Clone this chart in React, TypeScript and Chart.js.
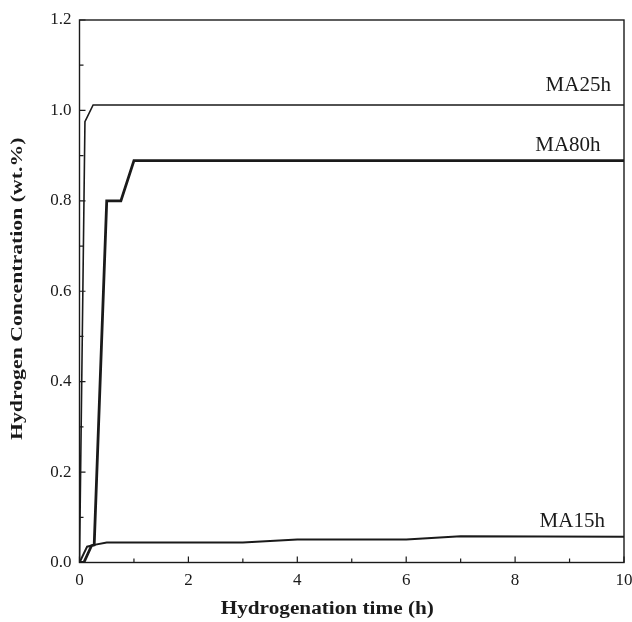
import React, { useEffect, useRef } from "react";
import { Chart, registerables } from "chart.js";

Chart.register(...registerables);

// ---- data ----
const ma25X = [0, 0.1, 0.25, 10];
const ma25Y = [0, 0.975, 1.012, 1.012];
const ma80X = [0, 0.08, 0.22, 0.27, 0.5, 0.76, 1.0, 10];
const ma80Y = [0, 0, 0.037, 0.039, 0.8, 0.8, 0.889, 0.889];
const ma15X = [0, 0.14, 0.27, 0.5, 3, 4, 6, 7, 10];
const ma15Y = [0, 0.035, 0.039, 0.044, 0.044, 0.051, 0.051, 0.058, 0.057];

const seriesNames = ["MA25h", "MA80h", "MA15h"];
const labelX = [9.76, 9.57, 9.65];
const labelY = [1.012, 0.889, 0.057];

const xTitle = "Hydrogenation time (h)";
const yTitle = "Hydrogen Concentration (wt.%)";

const FONT = "'Liberation Serif', 'Times New Roman', serif";
const INK = "#1a1a1a";

const toPts = (xs: number[], ys: number[]) => xs.map((x, i) => ({ x, y: ys[i] }));

const framePlugin = {
  id: "frame",
  afterDatasetsDraw(chart: any) {
    const { ctx, chartArea: a, scales } = chart;
    const xs = scales.x;
    const ys = scales.y;
    ctx.save();
    ctx.strokeStyle = INK;
    ctx.lineWidth = 1.4;
    ctx.strokeRect(a.left, a.top, a.right - a.left, a.bottom - a.top);
    // inward ticks
    ctx.lineWidth = 1.2;
    const xt = xs.ticks.map((t: any) => t.value);
    const yt = ys.ticks.map((t: any) => t.value);
    ctx.beginPath();
    xt.forEach((v: number, i: number) => {
      const px = xs.getPixelForValue(v);
      ctx.moveTo(px, a.bottom);
      ctx.lineTo(px, a.bottom - 6);
      if (i < xt.length - 1) {
        const m = xs.getPixelForValue((v + xt[i + 1]) / 2);
        ctx.moveTo(m, a.bottom);
        ctx.lineTo(m, a.bottom - 4);
      }
    });
    yt.forEach((v: number, i: number) => {
      const py = ys.getPixelForValue(v);
      ctx.moveTo(a.left, py);
      ctx.lineTo(a.left + 6, py);
      if (i < yt.length - 1) {
        const m = ys.getPixelForValue((v + yt[i + 1]) / 2);
        ctx.moveTo(a.left, m);
        ctx.lineTo(a.left + 4, m);
      }
    });
    ctx.stroke();
    // series labels
    ctx.fillStyle = INK;
    ctx.font = `21px ${FONT}`;
    ctx.textAlign = "right";
    ctx.textBaseline = "alphabetic";
    const gaps = [14, 10, 10];
    seriesNames.forEach((name, i) => {
      const px = xs.getPixelForValue(labelX[i]);
      const py = ys.getPixelForValue(labelY[i]) - gaps[i];
      ctx.fillText(name, px, py);
    });
    // axis titles (slightly stretched like the source figure)
    ctx.font = `bold 18px ${FONT}`;
    ctx.textAlign = "center";
    ctx.save();
    ctx.translate(a.left + (a.right - a.left) * 0.455, chart.height - 8);
    ctx.scale(1.18, 1);
    ctx.fillText(xTitle, 0, 0);
    ctx.restore();
    ctx.font = `bold 17px ${FONT}`;
    ctx.save();
    ctx.translate(22, (a.top + a.bottom) / 2 - 2.5);
    ctx.rotate(-Math.PI / 2);
    ctx.scale(1.28, 1);
    ctx.fillText(yTitle, 0, 0);
    ctx.restore();
    ctx.restore();
  },
};

export default function App() {
  const ref = useRef<HTMLCanvasElement | null>(null);
  useEffect(() => {
    document.body.style.margin = "0";
    if (!ref.current) return;
    const chart = new Chart(ref.current, {
      type: "scatter",
      data: {
        datasets: [
          { label: seriesNames[0], data: toPts(ma25X, ma25Y), showLine: true, borderColor: INK, borderWidth: 1.6, pointRadius: 0, tension: 0 },
          { label: seriesNames[1], data: toPts(ma80X, ma80Y), showLine: true, borderColor: INK, borderWidth: 2.8, pointRadius: 0, tension: 0 },
          { label: seriesNames[2], data: toPts(ma15X, ma15Y), showLine: true, borderColor: INK, borderWidth: 2.0, pointRadius: 0, tension: 0 },
        ],
      },
      options: {
        animation: false,
        responsive: false,
        maintainAspectRatio: false,
        layout: { padding: { top: 20, right: 8, left: 0, bottom: 0 } },
        plugins: { legend: { display: false }, tooltip: { enabled: false } },
        scales: {
          x: {
            type: "linear",
            min: 0,
            max: 10,
            ticks: { stepSize: 2, color: INK, font: { family: FONT, size: 17 }, padding: 8, maxRotation: 0 },
            grid: { display: false, drawTicks: false },
            border: { display: false },
            title: { display: false, text: xTitle },
            afterFit: (s: any) => { s.height = 59.5; s.paddingRight = 0; s.paddingLeft = 0; },
          },
          y: {
            type: "linear",
            min: 0,
            max: 1.2,
            ticks: { stepSize: 0.2, color: INK, font: { family: FONT, size: 17 }, padding: 8, callback: (v: any) => Number(v).toFixed(1) },
            grid: { display: false, drawTicks: false },
            border: { display: false },
            title: { display: false, text: yTitle },
            afterFit: (s: any) => { s.width = 79.5; s.paddingTop = 0; s.paddingBottom = 0; },
          },
        },
      },
      plugins: [framePlugin],
    } as any);
    return () => chart.destroy();
  }, []);
  return (
    <div style={{ width: 632, height: 622 }}>
      <canvas ref={ref} width={632} height={622} style={{ display: "block", width: 632, height: 622 }} />
    </div>
  );
}
